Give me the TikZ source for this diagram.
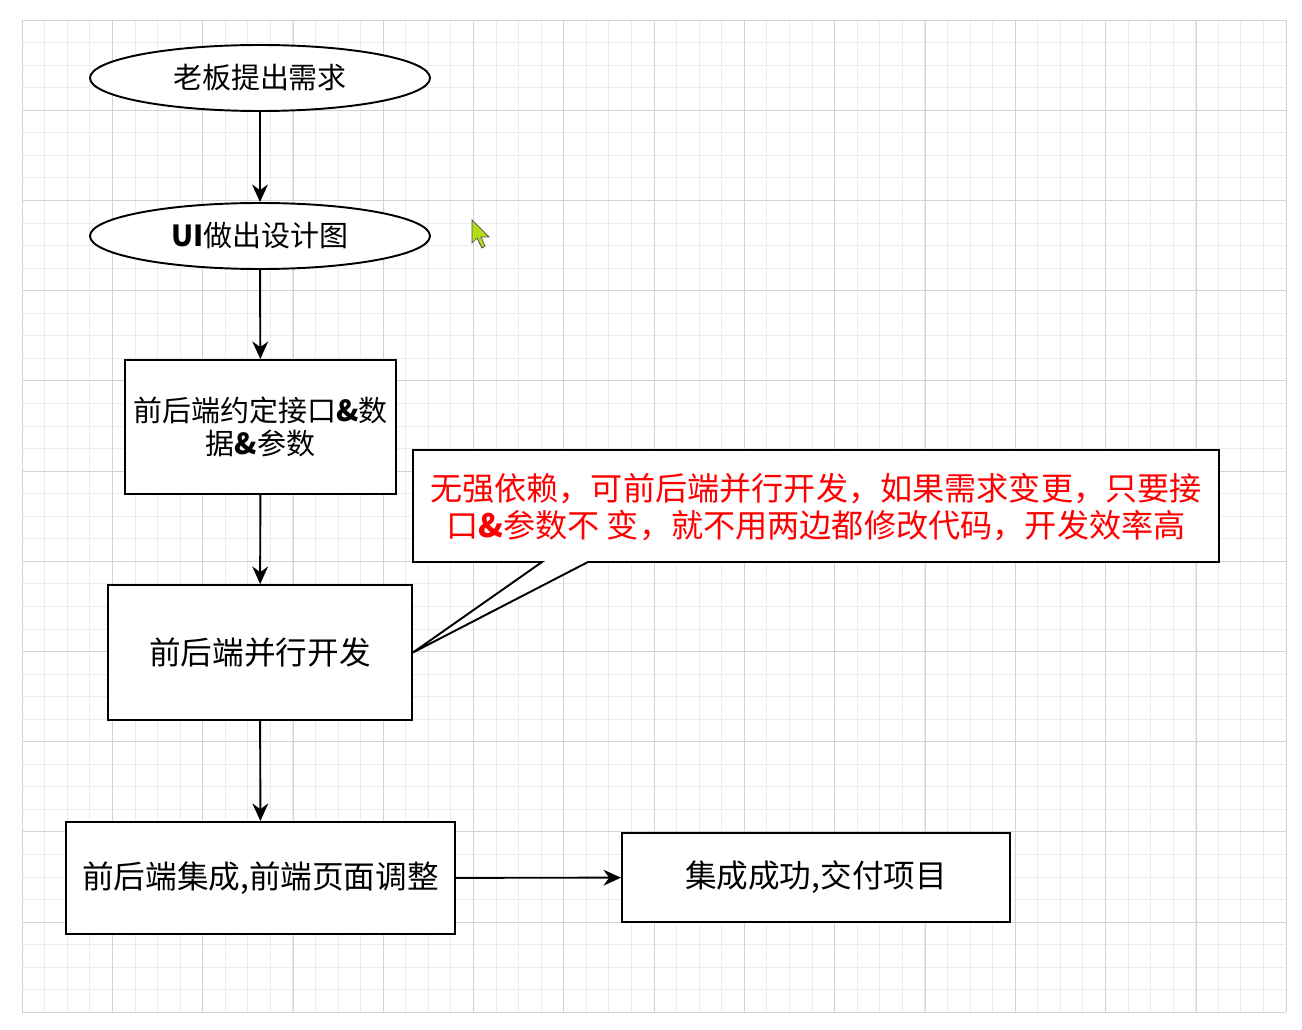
\documentclass[tikz,border=0pt]{standalone}
\usepackage{fontspec}
\setmainfont{Noto Sans CJK SC}
\usetikzlibrary{shapes.geometric,arrows.meta}
\begin{document}
\begin{tikzpicture}[x=0.02cm,y=-0.02cm,
  box/.style={draw,line width=1.1pt,fill=white,align=center,font=\fontsize{18}{21}\selectfont,inner sep=0pt},
  ell/.style={box,ellipse,font=\fontsize{16.5}{20}\selectfont},
  arr/.style={line width=1.1pt,-{Stealth[length=10pt,width=9pt]}}]
\useasboundingbox (0,0) rectangle (1302,1030);
\fill[white] (0,0) rectangle (1302,1030);
\foreach \i in {0,...,56} \draw[gray!15] (22+\i*22.57,20) -- (22+\i*22.57,1012);
\foreach \i in {0,...,44} \draw[gray!15] (22,20+\i*22.55) -- (1286,20+\i*22.55);
\foreach \i in {0,...,14} \draw[gray!35] (22+\i*90.3,20) -- (22+\i*90.3,1012);
\foreach \i in {0,...,11} \draw[gray!35] (22,20+\i*90.2) -- (1286,20+\i*90.2);
\node[ell,minimum width=340*0.02cm,minimum height=66*0.02cm] (a) at (260,78) {老板提出需求};
\node[ell,minimum width=340*0.02cm,minimum height=66*0.02cm] (b) at (260,236) {\textbf{UI}做出设计图};
\node[box,font=\fontsize{16.5}{19}\selectfont,minimum width=271*0.02cm,minimum height=134*0.02cm] (c) at (260.5,427) {前后端约定接口\textbf{\&}数\\据\textbf{\&}参数};
\node[box,minimum width=304*0.02cm,minimum height=135*0.02cm] (d) at (260,652.5) {前后端并行开发};
\node[box,minimum width=389*0.02cm,minimum height=112*0.02cm] (e) at (260.5,878) {前后端集成,前端页面调整};
\node[box,minimum width=388*0.02cm,minimum height=89*0.02cm] (f) at (816,877.5) {集成成功,交付项目};
\coordinate (p1) at (542,562);
\coordinate (p2) at (588,562);
\draw[line width=1.1pt,fill=white] (413,450) -- (1219,450) -- (1219,562) -- (p2) -- (d.east) -- (p1) -- (413,562) -- cycle;
\node[align=center,text=red,font=\fontsize{18.3}{21}\selectfont] (g) at (816,507) {无强依赖，可前后端并行开发，如果需求变更，只要接\\口\textbf{\&}参数不 变，就不用两边都修改代码，开发效率高};
\draw[arr] (a) -- (b);
\draw[arr] (b) -- (c);
\draw[arr] (c) -- (d);
\draw[arr] (d) -- (e);
\draw[arr] (e) -- (f);
\draw[fill=yellow!70!green,draw=black!70] (472,220) -- (472,243) -- (477,238) -- (482,248) -- (485,246) -- (481,237) -- (489,237) -- cycle;
\end{tikzpicture}
\end{document}
